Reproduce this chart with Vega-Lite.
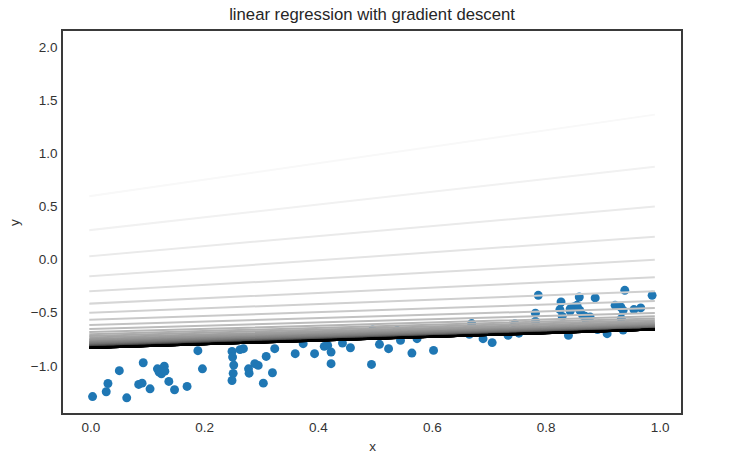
{
  "$schema": "https://vega.github.io/schema/vega-lite/v6.json",
  "width": 620,
  "height": 384,
  "autosize": "none",
  "padding": {"left": 62, "top": 30, "right": 58, "bottom": 49},
  "background": "white",
  "config": {
    "font": "Liberation Sans",
    "view": {"stroke": "#3a3a3a", "strokeWidth": 2},
    "axis": {
      "grid": false,
      "domain": false,
      "ticks": false,
      "labelFont": "Liberation Sans",
      "labelFontSize": 13.5,
      "labelColor": "#333333",
      "titleFont": "Liberation Sans",
      "titleFontSize": 13.5,
      "titleFontWeight": "normal",
      "titleColor": "#333333"
    },
    "title": {"font": "Liberation Sans", "fontSize": 16.7, "fontWeight": "normal", "color": "#262626", "offset": 6}
  },
  "title": "linear regression with gradient descent",
  "datasets": {
    "samples": [
      {"x": 0.004, "y": -1.286}, {"x": 0.028, "y": -1.241}, {"x": 0.031, "y": -1.163}, {"x": 0.051, "y": -1.043},
      {"x": 0.064, "y": -1.298}, {"x": 0.085, "y": -1.172}, {"x": 0.091, "y": -1.160}, {"x": 0.093, "y": -0.968},
      {"x": 0.105, "y": -1.213}, {"x": 0.118, "y": -1.025}, {"x": 0.130, "y": -1.000}, {"x": 0.125, "y": -1.072},
      {"x": 0.121, "y": -1.057}, {"x": 0.131, "y": -1.047}, {"x": 0.138, "y": -1.144}, {"x": 0.148, "y": -1.222},
      {"x": 0.170, "y": -1.191}, {"x": 0.189, "y": -0.855}, {"x": 0.197, "y": -1.025}, {"x": 0.249, "y": -0.862},
      {"x": 0.250, "y": -0.915}, {"x": 0.252, "y": -0.990}, {"x": 0.251, "y": -1.068}, {"x": 0.249, "y": -1.135},
      {"x": 0.263, "y": -0.845}, {"x": 0.269, "y": -0.836}, {"x": 0.278, "y": -1.025}, {"x": 0.279, "y": -1.066},
      {"x": 0.289, "y": -0.977}, {"x": 0.295, "y": -0.993}, {"x": 0.309, "y": -0.909}, {"x": 0.324, "y": -0.836},
      {"x": 0.320, "y": -1.062}, {"x": 0.304, "y": -1.160}, {"x": 0.360, "y": -0.883}, {"x": 0.374, "y": -0.789},
      {"x": 0.394, "y": -0.883}, {"x": 0.411, "y": -0.814}, {"x": 0.417, "y": -0.805}, {"x": 0.423, "y": -0.868},
      {"x": 0.423, "y": -0.977}, {"x": 0.443, "y": -0.783}, {"x": 0.457, "y": -0.827}, {"x": 0.494, "y": -0.984},
      {"x": 0.496, "y": -0.660}, {"x": 0.508, "y": -0.795}, {"x": 0.524, "y": -0.836}, {"x": 0.539, "y": -0.664},
      {"x": 0.545, "y": -0.758}, {"x": 0.565, "y": -0.877}, {"x": 0.574, "y": -0.742}, {"x": 0.564, "y": -0.673},
      {"x": 0.603, "y": -0.852}, {"x": 0.670, "y": -0.600}, {"x": 0.666, "y": -0.701}, {"x": 0.690, "y": -0.742},
      {"x": 0.706, "y": -0.779}, {"x": 0.734, "y": -0.711}, {"x": 0.746, "y": -0.602}, {"x": 0.753, "y": -0.690},
      {"x": 0.782, "y": -0.503}, {"x": 0.787, "y": -0.334}, {"x": 0.782, "y": -0.580}, {"x": 0.827, "y": -0.397},
      {"x": 0.825, "y": -0.468}, {"x": 0.829, "y": -0.532}, {"x": 0.840, "y": -0.711}, {"x": 0.849, "y": -0.444},
      {"x": 0.860, "y": -0.475}, {"x": 0.843, "y": -0.482}, {"x": 0.855, "y": -0.428}, {"x": 0.859, "y": -0.350},
      {"x": 0.865, "y": -0.522}, {"x": 0.875, "y": -0.553}, {"x": 0.871, "y": -0.563}, {"x": 0.878, "y": -0.538},
      {"x": 0.887, "y": -0.359}, {"x": 0.891, "y": -0.657}, {"x": 0.908, "y": -0.695}, {"x": 0.922, "y": -0.428},
      {"x": 0.932, "y": -0.444}, {"x": 0.936, "y": -0.475}, {"x": 0.933, "y": -0.553}, {"x": 0.936, "y": -0.660},
      {"x": 0.939, "y": -0.287}, {"x": 0.955, "y": -0.468}, {"x": 0.967, "y": -0.453}, {"x": 0.987, "y": -0.334},
      {"x": 0.843, "y": -0.461}, {"x": 0.869, "y": -0.531}
    ],
    "fits": [
      {"it": 0, "left": 1.000, "right": 1.990}, {"it": 1, "left": 0.599, "right": 1.363},
      {"it": 2, "left": 0.279, "right": 0.873}, {"it": 3, "left": 0.034, "right": 0.499},
      {"it": 4, "left": -0.155, "right": 0.216}, {"it": 5, "left": -0.296, "right": -0.001},
      {"it": 6, "left": -0.412, "right": -0.164}, {"it": 7, "left": -0.497, "right": -0.296},
      {"it": 8, "left": -0.563, "right": -0.387}, {"it": 9, "left": -0.614, "right": -0.453},
      {"it": 10, "left": -0.651, "right": -0.500}, {"it": 11, "left": -0.680, "right": -0.532},
      {"it": 12, "left": -0.700, "right": -0.552}, {"it": 13, "left": -0.716, "right": -0.569},
      {"it": 14, "left": -0.731, "right": -0.583}, {"it": 15, "left": -0.744, "right": -0.595},
      {"it": 16, "left": -0.755, "right": -0.605}, {"it": 17, "left": -0.765, "right": -0.613},
      {"it": 18, "left": -0.773, "right": -0.620}, {"it": 19, "left": -0.781, "right": -0.626},
      {"it": 20, "left": -0.787, "right": -0.631}, {"it": 21, "left": -0.793, "right": -0.635},
      {"it": 22, "left": -0.798, "right": -0.639}, {"it": 23, "left": -0.802, "right": -0.642},
      {"it": 24, "left": -0.805, "right": -0.644}, {"it": 25, "left": -0.809, "right": -0.646},
      {"it": 26, "left": -0.811, "right": -0.648}, {"it": 27, "left": -0.814, "right": -0.649},
      {"it": 28, "left": -0.816, "right": -0.650}, {"it": 29, "left": -0.818, "right": -0.652},
      {"it": 30, "left": -0.819, "right": -0.652}, {"it": 31, "left": -0.821, "right": -0.653},
      {"it": 32, "left": -0.822, "right": -0.654}, {"it": 33, "left": -0.823, "right": -0.654},
      {"it": 34, "left": -0.824, "right": -0.655}, {"it": 35, "left": -0.825, "right": -0.655},
      {"it": 36, "left": -0.825, "right": -0.655}, {"it": 37, "left": -0.826, "right": -0.656},
      {"it": 38, "left": -0.827, "right": -0.656}, {"it": 39, "left": -0.827, "right": -0.656},
      {"it": 40, "left": -0.827, "right": -0.656}, {"it": 41, "left": -0.828, "right": -0.656},
      {"it": 42, "left": -0.828, "right": -0.656}, {"it": 43, "left": -0.828, "right": -0.657},
      {"it": 44, "left": -0.829, "right": -0.657}, {"it": 45, "left": -0.829, "right": -0.657},
      {"it": 46, "left": -0.829, "right": -0.657}, {"it": 47, "left": -0.829, "right": -0.657},
      {"it": 48, "left": -0.829, "right": -0.657}, {"it": 49, "left": -0.829, "right": -0.657}
    ]
  },
  "layer": [
    {
      "data": {"name": "samples"},
      "mark": {"type": "point", "filled": true, "opacity": 1, "size": 80, "color": "#1f77b4"},
      "encoding": {
        "x": {
          "field": "x", "type": "quantitative",
          "scale": {"domain": [-0.0497, 1.0395], "nice": false, "zero": false},
          "axis": {"title": "x", "values": [0, 0.2, 0.4, 0.6, 0.8, 1.0], "format": ".1f", "labelPadding": 6, "titlePadding": 6}
        },
        "y": {
          "field": "y", "type": "quantitative",
          "scale": {"domain": [-1.45, 2.16], "nice": false, "zero": false},
          "axis": {"title": "y", "values": [-1.0, -0.5, 0, 0.5, 1.0, 1.5, 2.0], "format": ".1f", "labelPadding": 5, "titlePadding": 9}
        }
      }
    },
    {
      "data": {"name": "fits"},
      "mark": {"type": "rule", "strokeWidth": 2, "strokeCap": "square"},
      "encoding": {
        "x": {"datum": 0, "type": "quantitative"},
        "x2": {"datum": 0.99},
        "y": {"field": "left", "type": "quantitative"},
        "y2": {"field": "right"},
        "color": {
          "field": "it", "type": "quantitative",
          "scale": {"domain": [0, 42], "range": ["#ffffff", "#000000"], "clamp": true},
          "legend": null
        }
      }
    }
  ]
}
